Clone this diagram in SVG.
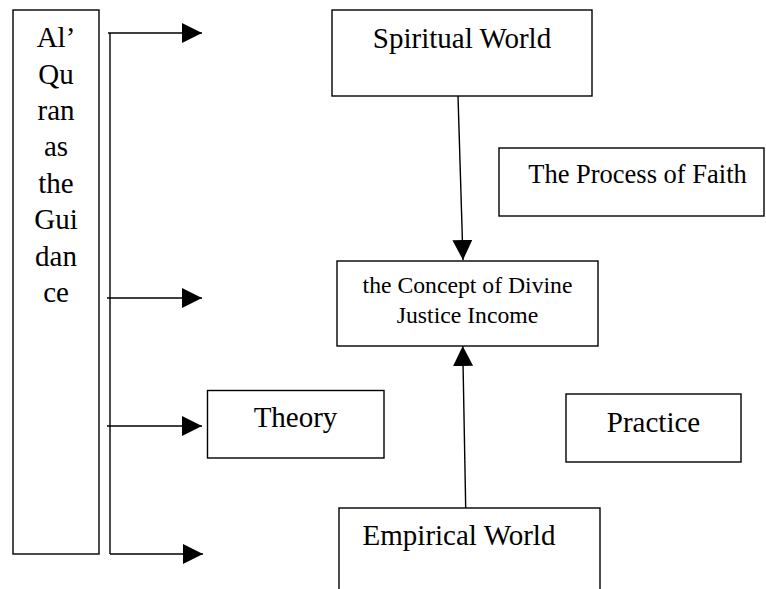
<svg xmlns="http://www.w3.org/2000/svg" width="766" height="589" viewBox="0 0 766 589">
<style>
.box{fill:#fff;stroke:#000;stroke-width:1.4}
.t{font-family:"Liberation Serif","Times New Roman",serif;fill:#000;text-anchor:middle}
.c{fill:none;stroke:#000;stroke-width:1.4}
</style>
<defs>
<marker id="ah" markerUnits="userSpaceOnUse" markerWidth="21" markerHeight="21" refX="20" refY="10" orient="auto" viewBox="0 0 21 21">
<path d="M0,0 L20,10 L0,20 z" fill="#000"/>
</marker>
</defs>
<rect width="766" height="589" fill="#fff"/>
<g id="quran">
<rect class="box" x="13" y="10" width="86" height="544"/>
<text class="t" font-size="29" x="56" y="47">Al’</text>
<text class="t" font-size="29" x="56" y="83.5">Qu</text>
<text class="t" font-size="29" x="56" y="120">ran</text>
<text class="t" font-size="29" x="56" y="156">as</text>
<text class="t" font-size="29" x="56" y="193">the</text>
<text class="t" font-size="29" x="56" y="229">Gui</text>
<text class="t" font-size="29" x="56" y="265.5">dan</text>
<text class="t" font-size="29" x="56" y="302">ce</text>
</g>
<g id="spiritual">
<rect class="box" x="332" y="10" width="260" height="86"/>
<text class="t" font-size="29" x="462" y="48">Spiritual World</text>
</g>
<g id="faith">
<rect class="box" x="499" y="148" width="265" height="68"/>
<text class="t" font-size="26.5" x="637.5" y="183">The Process of Faith</text>
</g>
<g id="concept">
<rect class="box" x="337" y="261" width="261" height="85"/>
<text class="t" font-size="23.7" x="467.5" y="293">the Concept of Divine</text>
<text class="t" font-size="23.7" x="467.5" y="323">Justice Income</text>
</g>
<g id="theory">
<rect class="box" x="207.5" y="390.5" width="176.5" height="67.5"/>
<text class="t" font-size="29" x="295.5" y="427">Theory</text>
</g>
<g id="practice">
<rect class="box" x="566" y="394" width="175" height="68"/>
<text class="t" font-size="29" x="653.5" y="432">Practice</text>
</g>
<g id="empirical">
<rect class="box" x="339" y="508" width="261" height="100"/>
<text class="t" font-size="29" x="459" y="545">Empirical World</text>
</g>
<g id="connectors">
<path class="c" d="M110,33 V554"/>
<path class="c" d="M108,33 H202" marker-end="url(#ah)"/>
<path class="c" d="M107,298 H202" marker-end="url(#ah)"/>
<path class="c" d="M107,426 H202" marker-end="url(#ah)"/>
<path class="c" d="M110,554 H203" marker-end="url(#ah)"/>
<path class="c" d="M458,96 L463,260" marker-end="url(#ah)"/>
<path class="c" d="M465.7,508 L462.7,346" marker-end="url(#ah)"/>
</g>
</svg>
